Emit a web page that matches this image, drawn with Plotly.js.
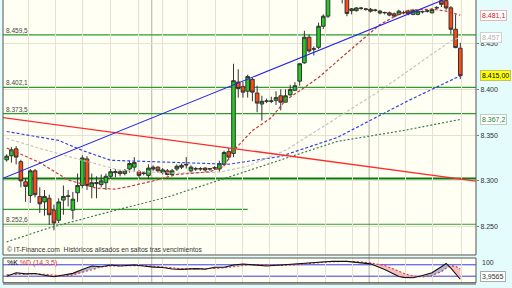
<!DOCTYPE html>
<html><head><meta charset="utf-8">
<script src="https://cdn.plot.ly/plotly-3.0.1.min.js"></script>
<style>html,body{margin:0;padding:0;background:#e4fcfc;}#chart{width:512px;height:288px;}</style>
</head><body><div id="chart"></div>
<script>
// ---- candle data (index = trading day) ----
const open  = [8.323,8.3275,8.335,8.321,8.299,8.284,8.311,8.283,8.277,8.281,8.268,8.257,8.279,8.283,8.268,8.287,8.295,8.324,8.294,8.297,8.296,8.298,8.305,8.309,8.310,8.308,8.313,8.315,8.310,8.308,8.306,8.315,8.315,8.309,8.311,8.307,8.313,8.317,8.318,8.311,8.313,8.313,8.314,8.313,8.314,8.313,8.318,8.332,8.330,8.408,8.403,8.398,8.411,8.396,8.384,8.387,8.387,8.388,8.393,8.386,8.394,8.399,8.409,8.429,8.457,8.444,8.446,8.469,8.480,8.505,8.518,8.528,8.505,8.486,8.486,8.4885,8.4875,8.4875,8.4863,8.4835,8.4837,8.4837,8.4826,8.482,8.4837,8.4855,8.482,8.482,8.4848,8.4855,8.4837,8.4891,8.497,8.497,8.4891,8.4657,8.445];
const high  = [8.329,8.337,8.338,8.323,8.303,8.313,8.313,8.293,8.290,8.285,8.274,8.281,8.295,8.290,8.288,8.308,8.328,8.327,8.308,8.305,8.307,8.308,8.313,8.313,8.312,8.313,8.322,8.326,8.312,8.310,8.318,8.317,8.316,8.314,8.313,8.313,8.318,8.319,8.326,8.317,8.315,8.315,8.315,8.314,8.316,8.322,8.333,8.336,8.428,8.422,8.408,8.416,8.413,8.404,8.393,8.390,8.392,8.398,8.400,8.400,8.405,8.408,8.429,8.464,8.460,8.447,8.473,8.482,8.510,8.525,8.535,8.532,8.510,8.489,8.490,8.490,8.489,8.489,8.488,8.487,8.485,8.485,8.484,8.487,8.486,8.487,8.488,8.487,8.486,8.487,8.489,8.491,8.499,8.500,8.491,8.482,8.451];
const low   = [8.321,8.320,8.318,8.293,8.277,8.276,8.282,8.265,8.262,8.252,8.246,8.254,8.263,8.272,8.258,8.277,8.292,8.290,8.281,8.281,8.293,8.290,8.302,8.304,8.305,8.306,8.309,8.310,8.303,8.306,8.302,8.311,8.309,8.307,8.306,8.306,8.311,8.313,8.3135,8.309,8.311,8.311,8.310,8.311,8.312,8.310,8.316,8.323,8.326,8.391,8.391,8.391,8.387,8.375,8.366,8.385,8.385,8.383,8.377,8.386,8.393,8.398,8.404,8.428,8.440,8.437,8.444,8.466,8.478,8.500,8.512,8.494,8.480,8.482,8.485,8.487,8.486,8.484,8.485,8.482,8.482,8.480,8.479,8.481,8.482,8.481,8.481,8.481,8.483,8.484,8.483,8.488,8.490,8.487,8.4602,8.445,8.4113];
const close = [8.327,8.334,8.326,8.300,8.294,8.311,8.285,8.275,8.283,8.263,8.254,8.277,8.283,8.2835,8.280,8.295,8.325,8.295,8.298,8.298,8.300,8.305,8.310,8.310,8.308,8.311,8.319,8.320,8.306,8.3085,8.314,8.313,8.311,8.312,8.307,8.311,8.316,8.315,8.3175,8.315,8.3133,8.3133,8.312,8.3133,8.3143,8.319,8.331,8.326,8.4095,8.401,8.397,8.414,8.397,8.385,8.387,8.3873,8.3873,8.391,8.386,8.393,8.400,8.404,8.428,8.457,8.442,8.4443,8.469,8.480,8.505,8.520,8.530,8.500,8.483,8.488,8.489,8.4888,8.4878,8.4855,8.4866,8.4855,8.4840,8.4812,8.480,8.4855,8.4840,8.4826,8.4863,8.4855,8.4850,8.4858,8.4873,8.4893,8.493,8.489,8.4657,8.4457,8.415];

// ---- moving averages (index, value) ----
const maFastX = [0,7,13,19,23,26,31,36,43,46,48,52,56,59,63,66,70,75,79,83,85,90,93,96];
const maFast  = [8.336,8.320,8.301,8.292,8.291,8.294,8.300,8.307,8.310,8.316,8.333,8.355,8.369,8.388,8.402,8.413,8.431,8.453,8.471,8.482,8.4866,8.4877,8.4855,8.4811];
const maMidX  = [0,7,16,24,35,45,51,59,68,79,94,96];
const maMid   = [8.3464,8.3355,8.3225,8.3116,8.3084,8.3095,8.316,8.3334,8.3627,8.3986,8.4529,8.457];
const maSlowX = [0,11,16,22,35,47,58,70,85,96];
const maSlow  = [8.354,8.3442,8.3333,8.3225,8.3203,8.3182,8.3268,8.3475,8.3877,8.4149];
const maLongX = [0,9,20,34,45,58,70,84,96];
const maLong  = [8.2334,8.2486,8.2638,8.2823,8.3008,8.3225,8.3432,8.3551,8.3671];

// ---- trend lines ----
const trendBlueX = [-0.8, 99.3], trendBlueY = [8.3028, 8.5123];
const trendRedX  = [-0.8, 99.3], trendRedY  = [8.3692, 8.2997];

// ---- horizontal levels ----
const levelValues = [8.4595, 8.4021, 8.3735, 8.3026, 8.2526];
const levelLabels = ['8.459,5', '8.402,1', '8.373,5', '', '8.252,6'];
const partialLevel = 8.2689, partialLevelEnd = 51;

// ---- right-side value tags ----
const tagValues = [8.4811, 8.457, 8.415, 8.3672];
const tagTexts  = ['8.481,1', '8.457', '8.415,00', '8.367,2'];
const priceTicks = [8.25, 8.30, 8.35, 8.40, 8.45];

// ---- stochastic %K %D (14,3,5) ----
const stochX = [0,2,4,6,8,10,12,14,16,18,20,22,24,27,29,31,33,35,37,40,42,44,46,48,50,52,55,58,61,63,66,69,72,75,77,80,82,83,84,86,88,90,92,93,94,95,96];
const stochK = [20,38,32,34,25,17,26,35,55,74,70,79,74,79,74,68,66,58,56,60,57,67,67,79,84,81,74,79,85,88,96,99,98,90,85,55,32,18,14,12,24,38,70,87,62,30,4];
const stochD = [28,30,34,33,30,24,21,27,40,56,68,74,75,76,76,73,69,64,59,58,58,61,64,71,78,82,79,77,80,85,91,96,98,95,90,76,58,46,35,20,16,24,44,62,75,72,58];
const stochLevels = [80, 20];
const stochLastText = '3,9565';

// vertical grid positions (in candle index units)
const gridX = [4.7,10.4,16.1,21.9,27.8,32.9,38.2,44.1,50,55.7,61.6,67.4,73.1,78.6,84.5,90.2,96.2];
const monthX = [30.7, 76.7];

const idx = open.map((_, i) => i);
const FONT = 'Liberation Sans, Arial, sans-serif';

const traces = [];
// MAs first (behind candles)
function ma(xs, ys, color, dash, w) {
  return {type:'scatter', mode:'lines', x:xs, y:ys, xaxis:'x', yaxis:'y',
    line:{color:color, width:w||1.2, dash:dash}, hoverinfo:'skip'};
}
traces.push(ma(maLongX, maLong, '#3d7a4d', '2px,2px'));
traces.push(ma(maSlowX, maSlow, '#3344dd', '3px,2px'));
traces.push(ma(maMidX, maMid, '#c4c4c4', '3px,2px'));
traces.push(ma(maFastX, maFast, '#c43a3a', '3px,2px'));
traces.push({type:'scatter', mode:'lines', x:trendRedX, y:trendRedY, line:{color:'#ff2a2a', width:1.4}, hoverinfo:'skip'});
traces.push({type:'scatter', mode:'lines', x:trendBlueX, y:trendBlueY, line:{color:'#2020ee', width:1.1}, hoverinfo:'skip'});

traces.push({type:'candlestick', x:idx, open:open, high:high, low:low, close:close,
  xaxis:'x', yaxis:'y', whiskerwidth:0,
  increasing:{line:{color:'#333333', width:1}, fillcolor:'#22cc22'},
  decreasing:{line:{color:'#333333', width:1}, fillcolor:'#ff4a14'},
  hoverinfo:'skip'});

// stochastic fills built from K and D
const posX=[], posY=[], negX=[], negY=[];
function poly(arrX, arrY, pts){ pts.forEach(p=>{arrX.push(p[0]); arrY.push(p[1]);}); arrX.push(null); arrY.push(null); }
for (let j=0;j<stochX.length-1;j++){
  const x0=stochX[j], x1=stochX[j+1], k0=stochK[j], k1=stochK[j+1], d0=stochD[j], d1=stochD[j+1];
  const s0=k0-d0, s1=k1-d1;
  if (s0*s1>=0){
    const tgt = (s0+s1)>=0 ? [posX,posY] : [negX,negY];
    poly(tgt[0],tgt[1],[[x0,k0],[x1,k1],[x1,d1],[x0,d0]]);
  } else {
    const t=s0/(s0-s1), xc=x0+t*(x1-x0), yc=k0+t*(k1-k0);
    const a = s0>0?[posX,posY]:[negX,negY], b = s0>0?[negX,negY]:[posX,posY];
    poly(a[0],a[1],[[x0,k0],[xc,yc],[x0,d0]]);
    poly(b[0],b[1],[[xc,yc],[x1,k1],[x1,d1]]);
  }
}
traces.push({type:'scatter', mode:'lines', x:posX, y:posY, xaxis:'x2', yaxis:'y2', fill:'toself',
  fillcolor:'rgba(150,160,205,0.75)', line:{width:0}, hoverinfo:'skip'});
traces.push({type:'scatter', mode:'lines', x:negX, y:negY, xaxis:'x2', yaxis:'y2', fill:'toself',
  fillcolor:'rgba(245,175,175,0.8)', line:{width:0}, hoverinfo:'skip'});
traces.push({type:'scatter', mode:'lines', x:stochX, y:stochD, xaxis:'x2', yaxis:'y2',
  line:{color:'#e03030', width:1.1, dash:'2px,2px'}, hoverinfo:'skip'});
traces.push({type:'scatter', mode:'lines', x:stochX, y:stochK, xaxis:'x2', yaxis:'y2',
  line:{color:'#111111', width:1.1}, hoverinfo:'skip'});

const shapes = [];
levelValues.forEach((v,i)=>{
  const thick = (i===3);
  shapes.push({type:'line', xref:'x', yref:'y', x0:-0.8, x1:99.3, y0:v, y1:v,
    line:{color: thick?'#0a7a0a':'#2c9c2c', width: thick?2:1.2}, layer:'below'});
});
shapes.push({type:'line', xref:'x', yref:'y', x0:-0.8, x1:partialLevelEnd, y0:partialLevel, y1:partialLevel,
  line:{color:'#2c9c2c', width:1.2}, layer:'below'});
monthX.forEach(m=>{
  shapes.push({type:'line', xref:'x', yref:'paper', x0:m, x1:m, y0:0.018, y1:1, line:{color:'#b0b0a8', width:1}, layer:'below'});
});
stochLevels.forEach(v=>{
  shapes.push({type:'line', xref:'x2', yref:'y2', x0:-0.8, x1:99.3, y0:v, y1:v, line:{color:'#3a3af0', width:1}, layer:'below'});
});
// panel frames
shapes.push({type:'rect', xref:'paper', yref:'paper', x0:0, x1:1, y0:0.1146, y1:1.01, line:{color:'#555', width:1}});
shapes.push({type:'rect', xref:'paper', yref:'paper', x0:0, x1:1, y0:0.0184, y1:0.1042, line:{color:'#555', width:1}});
shapes.push({type:'line', xref:'paper', yref:'paper', x0:0, x1:1, y0:0.0139, y1:0.0139, line:{color:'#555', width:1}});

const annotations = [];
levelValues.forEach((v,i)=>{
  if (!levelLabels[i]) return;
  annotations.push({xref:'paper', yref:'y', x:0, y:v, xanchor:'left', yanchor:'bottom', xshift:1, yshift:-1,
    text:levelLabels[i], showarrow:false, font:{family:FONT, size:6.5, color:'#444'}});
});
const tagStyle = [
  {color:'#d02020', bg:'#ffffff', border:'#e8b4b4'},
  {color:'#b0b0b0', bg:'#ffffff', border:'#d0d0d0'},
  {color:'#000000', bg:'#ffff00', border:'#c8c060'},
  {color:'#2a7a3a', bg:'#ffffff', border:'#b8d0c0'}
];
tagValues.forEach((v,i)=>{
  annotations.push({xref:'paper', yref:'y', x:1, y:v, xanchor:'left', yanchor:'middle', xshift:4,
    text:tagTexts[i], showarrow:false, bgcolor:tagStyle[i].bg, bordercolor:tagStyle[i].border, borderwidth:1, borderpad:1,
    font:{family:FONT, size:7, color:tagStyle[i].color}});
});
annotations.push({xref:'paper', yref:'y', x:1, y:8.500, xanchor:'left', yanchor:'middle', xshift:4,
  text:'8.500', showarrow:false, font:{family:FONT, size:7, color:'#333'}});
annotations.push({xref:'paper', yref:'paper', x:0, y:1-249/288, xanchor:'left', yanchor:'middle', xshift:2,
  text:'© IT-Finance.com  Históricos alisados en saltos tras vencimientos', showarrow:false,
  font:{family:FONT, size:6.7, color:'#333'}});
annotations.push({xref:'paper', yref:'paper', x:0, y:1-263/288, xanchor:'left', yanchor:'middle', xshift:2,
  text:'<span style="color:#000">%K</span> <span style="color:#e03030">%D (14,3,5)</span>', showarrow:false,
  font:{family:FONT, size:7, color:'#000'}});
annotations.push({xref:'paper', yref:'y2', x:1, y:100, xanchor:'left', yanchor:'middle', xshift:4, yshift:-2,
  text:'100', showarrow:false, font:{family:FONT, size:7, color:'#333'}});
annotations.push({xref:'paper', yref:'y2', x:1, y:stochK[stochK.length-1], xanchor:'left', yanchor:'middle', xshift:4, yshift:3,
  text:stochLastText, showarrow:false, bgcolor:'#ffffff', bordercolor:'#aaaaaa', borderwidth:1, borderpad:1,
  font:{family:FONT, size:7, color:'#333'}});

const xRange = [-0.783, 99.32];
const gridStyle = {showgrid:true, gridcolor:'#e6e2d2', gridwidth:1, tickvals:gridX, showticklabels:false, ticks:'', zeroline:false, showline:false, fixedrange:true};
const layout = {
  width:512, height:288, margin:{l:3, r:36, t:0, b:0},
  paper_bgcolor:'#e4fcfc', plot_bgcolor:'#fffff4',
  showlegend:false, hovermode:false, dragmode:false,
  boxgap:0.15, boxgroupgap:0.1,
  xaxis: Object.assign({domain:[0,1], range:xRange, anchor:'y', rangeslider:{visible:false}}, gridStyle),
  xaxis2: Object.assign({domain:[0,1], range:xRange, anchor:'y2'}, gridStyle),
  xaxis3: Object.assign({domain:[0,1], range:xRange, anchor:'y3'}, gridStyle),
  yaxis: {domain:[0.1146,1], range:[8.2190, 8.4977], side:'right', tickvals:priceTicks, tickformat:'.3f',
    ticks:'outside', ticklen:2, tickcolor:'#777', showgrid:true, gridcolor:'#e6e2d2', zeroline:false, showline:false,
    tickfont:{family:FONT, size:7, color:'#333'}, fixedrange:true},
  yaxis2: {domain:[0.0184,0.1042], range:[-14.2, 115.8], showgrid:false, showticklabels:false, ticks:'', zeroline:false, fixedrange:true},
  yaxis3: {domain:[0,0.0139], range:[0,1], showgrid:false, showticklabels:false, ticks:'', zeroline:false, fixedrange:true},
  shapes: shapes,
  annotations: annotations
};
Plotly.newPlot('chart', traces, layout, {staticPlot:true, displayModeBar:false});
</script>
</body></html>
